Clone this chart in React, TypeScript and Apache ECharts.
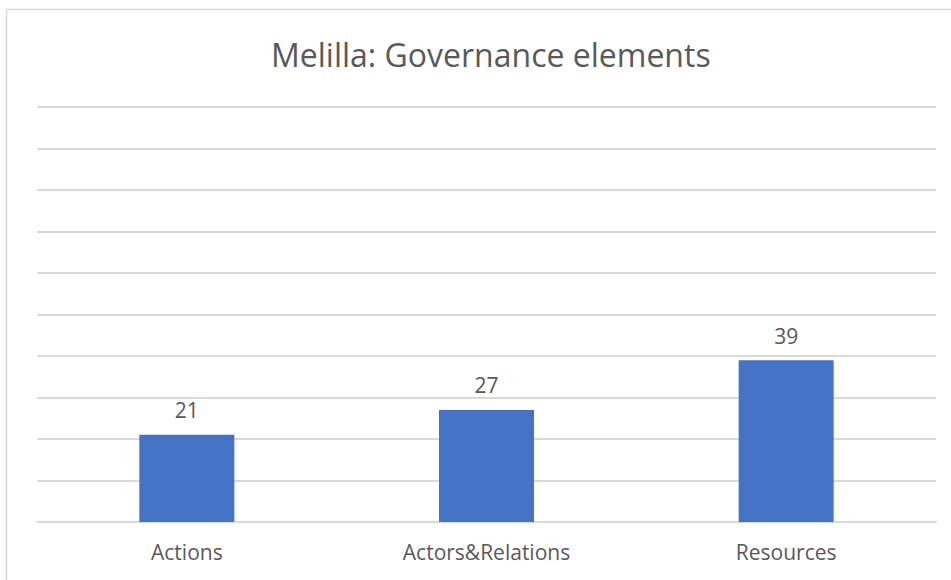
import React, { useEffect, useRef } from "react";
import * as echarts from "echarts";

const categories = ["Actions", "Actors&Relations", "Resources"];
const values = [21, 27, 39];
const titleText = "Melilla: Governance elements";
const yMin = 0;
const yMax = 100;
const yInterval = 10;

export default function App() {
  const ref = useRef<HTMLDivElement>(null);
  useEffect(() => {
    if (!ref.current) return;
    const chart = echarts.init(ref.current, null, { renderer: "svg" });
    const font = "'Open Sans', 'Noto Sans', sans-serif";
    chart.setOption({
      animation: false,
      backgroundColor: "#ffffff",
      title: {
        text: titleText,
        left: 266,
        top: 33,
        textStyle: {
          fontFamily: font,
          fontSize: 32,
          fontWeight: "normal",
          color: "#595959",
        },
      },
      graphic: [
        {
          type: "rect",
          shape: { x: 6.5, y: 9.5, width: 1000, height: 700 },
          style: { fill: "none", stroke: "#d9d9d9", lineWidth: 1.5 },
          silent: true,
        },
      ],
      grid: { left: 37, right: 15, top: 107, bottom: 58, containLabel: false },
      xAxis: {
        type: "category",
        data: categories,
        axisLine: { show: true, lineStyle: { color: "#d9d9d9", width: 2 } },
        axisTick: { show: false },
        axisLabel: {
          fontFamily: font,
          fontSize: 21,
          color: "#595959",
          margin: 19,
        },
      },
      yAxis: {
        type: "value",
        min: yMin,
        max: yMax,
        interval: yInterval,
        axisLine: { show: false },
        axisTick: { show: false },
        axisLabel: { show: false },
        splitLine: { lineStyle: { color: "#d9d9d9", width: 2 } },
      },
      series: [
        {
          type: "bar",
          data: values,
          barWidth: "31.7%",
          itemStyle: { color: "#4472c4" },
          label: {
            show: true,
            position: "top",
            distance: 14,
            fontFamily: font,
            fontSize: 21,
            color: "#595959",
          },
        },
      ],
    });
    return () => chart.dispose();
  }, []);
  return (
    <div
      ref={ref}
      style={{ position: "fixed", left: 0, top: 0, width: 951, height: 580 }}
    />
  );
}
